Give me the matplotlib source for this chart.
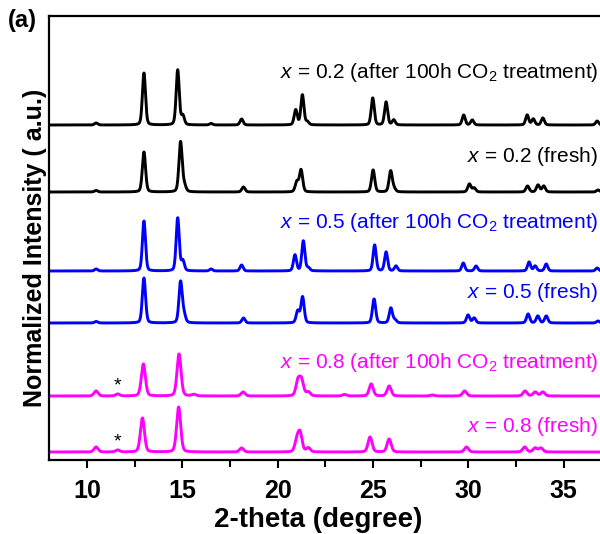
import numpy as np
import matplotlib
matplotlib.use("Agg")
import matplotlib.pyplot as plt
from matplotlib.ticker import MultipleLocator

plt.rcParams["font.family"] = ["Liberation Sans", "DejaVu Sans"]
plt.rcParams["mathtext.fontset"] = "custom"
plt.rcParams["mathtext.rm"] = "Liberation Sans"
plt.rcParams["mathtext.it"] = "Liberation Sans:italic"

# peak lists: 2-theta position, height (a.u.)
pos_02_co2 = [10.47, 12.98, 14.75, 15.02, 16.5, 18.1, 20.94, 21.29, 21.55, 24.98, 25.68, 26.08, 29.75, 30.2, 33.08, 33.4, 33.9, 36.75]
hgt_02_co2 = [2, 52, 55, 9, 1.5, 6, 15, 30, 3, 27, 23, 5, 10, 5, 10, 6, 7, 4]

pos_02_fresh = [10.47, 12.98, 14.9, 15.1, 18.2, 21.0, 21.22, 25.0, 25.92, 26.1, 30.05, 30.3, 33.1, 33.65, 33.95, 36.8]
hgt_02_fresh = [1.5, 40, 50, 6, 5, 10, 22, 22, 21, 3, 8, 4, 6, 7, 6, 2]

pos_05_co2 = [10.47, 12.98, 14.75, 15.02, 16.5, 18.1, 20.9, 21.34, 21.6, 25.08, 25.68, 26.2, 29.73, 30.4, 33.18, 33.5, 34.08, 36.75]
hgt_05_co2 = [2, 50, 53, 10, 2, 6, 16, 30, 3, 26, 19, 5, 8, 5, 9, 5, 7, 3]

pos_05_fresh = [10.47, 12.98, 14.9, 15.08, 18.2, 21.05, 21.3, 25.05, 25.93, 26.15, 29.98, 30.3, 33.13, 33.64, 34.08, 36.8]
hgt_05_fresh = [1.5, 45, 41, 8, 5, 12, 26, 24, 15, 3, 8, 5, 9, 7, 7, 2]

pos_08_co2 = [10.47, 11.6, 12.95, 14.82, 15.6, 18.18, 21.06, 21.25, 21.6, 23.5, 24.9, 25.84, 28.1, 29.8, 32.97, 33.5, 33.9]
hgt_08_co2 = [5, 2, 32, 42, 1.5, 4, 15, 15, 4, 1.5, 12, 10, 1, 5, 5, 4, 4]

pos_08_fresh = [10.47, 11.6, 12.9, 14.8, 18.1, 21.0, 21.17, 21.6, 24.84, 25.84, 29.9, 32.95, 33.5, 33.8]
hgt_08_fresh = [5, 2, 34, 45, 4, 11, 18, 4, 15, 13, 5, 5, 4, 4]

labels = [
    r"$\mathit{x}$ = 0.2 (after 100h CO$_2$ treatment)",
    r"$\mathit{x}$ = 0.2 (fresh)",
    r"$\mathit{x}$ = 0.5 (after 100h CO$_2$ treatment)",
    r"$\mathit{x}$ = 0.5 (fresh)",
    r"$\mathit{x}$ = 0.8 (after 100h CO$_2$ treatment)",
    r"$\mathit{x}$ = 0.8 (fresh)",
]
star_pos = 11.6

traces = [
    (pos_02_co2, hgt_02_co2), (pos_02_fresh, hgt_02_fresh),
    (pos_05_co2, hgt_05_co2), (pos_05_fresh, hgt_05_fresh),
    (pos_08_co2, hgt_08_co2), (pos_08_fresh, hgt_08_fresh),
]
colors = ["black", "black", "#0000ff", "#0000ff", "#ff00ff", "#ff00ff"]
offsets = [335, 268, 189, 137, 64, 8]
label_y = [387, 303, 237, 167, 98, 34]
fwhm = [0.19, 0.2, 0.19, 0.2, 0.25, 0.25]


def profile(tt, pos, hgt, w):
    # pseudo-Voigt sum of the read peaks
    y = np.zeros_like(tt)
    for p, h in zip(pos, hgt):
        g = np.exp(-4 * np.log(2) * ((tt - p) / w) ** 2)
        l = 1 / (1 + 4 * ((tt - p) / w) ** 2)
        y += h * (0.75 * g + 0.25 * l)
    return y


tt = np.linspace(8, 37, 4000)

fig = plt.figure(figsize=(6, 5.34), dpi=100)
ax = fig.add_axes([49 / 600, 74 / 534, 551 / 600, 444 / 534])

for (pos, hgt), c, off, ly, w, lab in zip(traces, colors, offsets, label_y, fwhm, labels):
    ax.plot(tt, off + profile(tt, pos, hgt, w), color=c, lw=2.1)
    ax.text(36.8, ly, lab, color=c, fontsize=15, ha="right", va="center")

for off in offsets[4:]:
    ax.text(star_pos, off + 10, "*", color="black", fontsize=14, ha="center", va="center")

ax.set_xlim(8, 36.9)
ax.set_ylim(0, 444)
ax.set_yticks([])
ax.xaxis.set_major_locator(MultipleLocator(5))
ax.xaxis.set_minor_locator(MultipleLocator(2.5))
ax.tick_params(axis="x", which="major", direction="out", length=6, width=1.5, labelsize=18, pad=8)
ax.tick_params(axis="x", which="minor", direction="out", length=5, width=1.5)
for lab in ax.get_xticklabels():
    lab.set_fontweight("bold")
ax.spines["right"].set_visible(False)
for s in ["left", "top", "bottom"]:
    ax.spines[s].set_linewidth(1.6)

fig.text(318 / 600, 1 - 520 / 534, "2-theta (degree)", fontsize=20, fontweight="bold", ha="center", va="center")
fig.text(35 / 600, 1 - 248 / 534, "Normalized Intensity ( a.u.)", fontsize=18, fontweight="bold",
         rotation=90, ha="center", va="center")
fig.text(8 / 600, 1 - 20 / 534, "(a)", fontsize=17, fontweight="bold", ha="left", va="center")

fig.savefig("out.png", dpi=100)
